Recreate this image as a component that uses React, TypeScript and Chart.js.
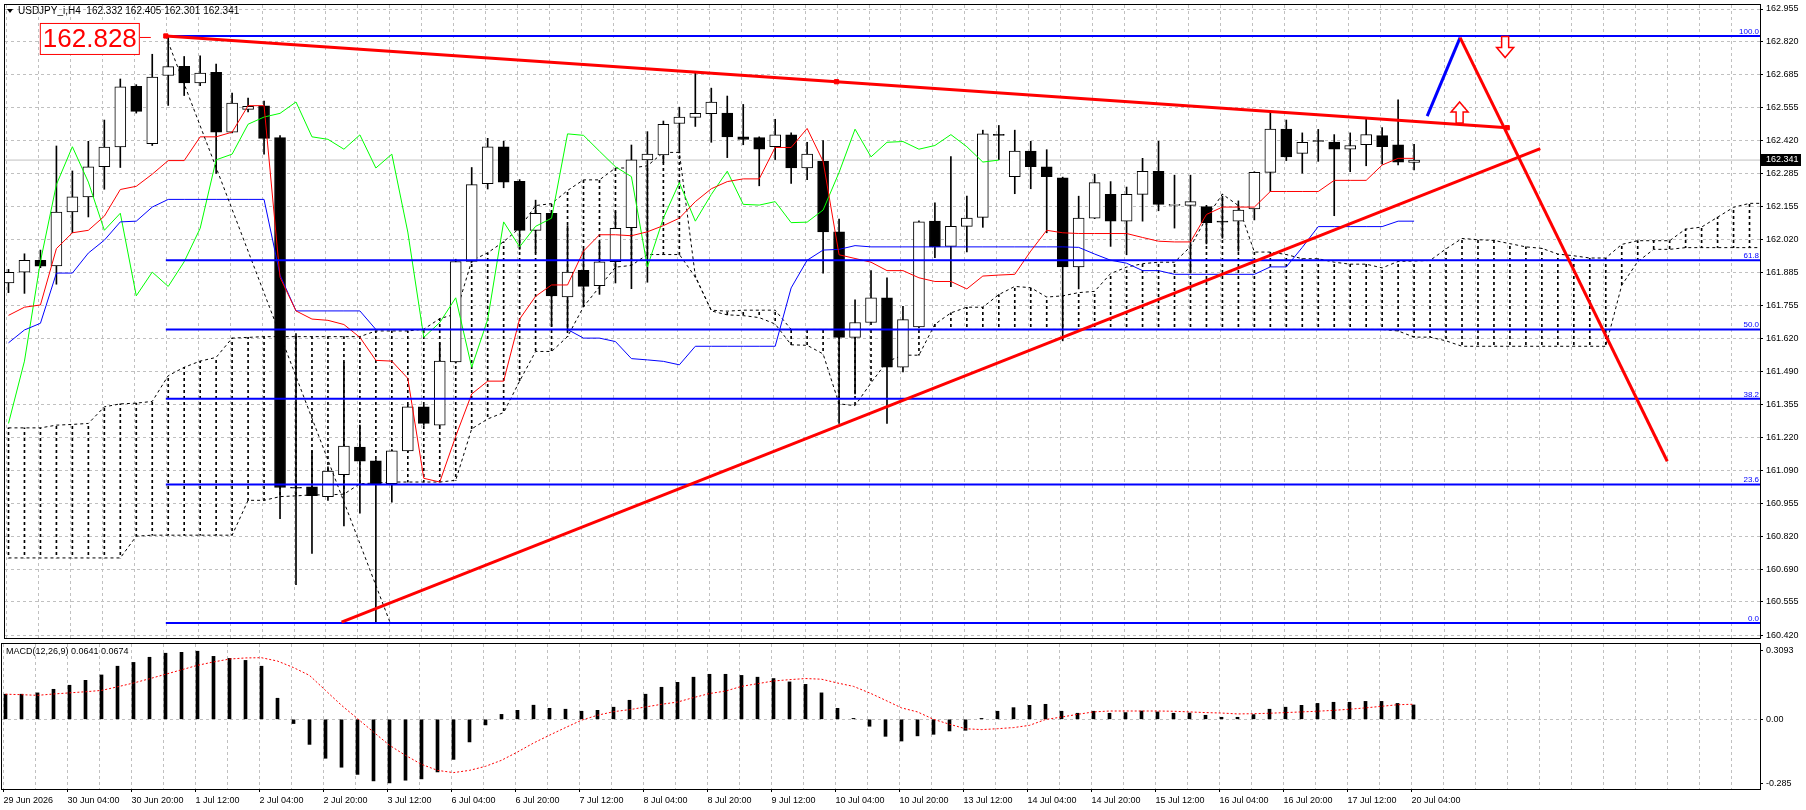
import React, { useEffect, useRef } from 'react';
import { Chart, registerables } from 'chart.js';

Chart.register(...registerables);

// ---------- text ----------
const symbolTitle = 'USDJPY_i,H4';
const lastQuote = ['162.332', '162.405', '162.301', '162.341'];
const macdTitle = 'MACD(12,26,9) 0.0641 0.0674';
const priceLabel = '162.828';

// ---------- candles (H4 bars, 29 Jun 12:00 .. 20 Jul 04:00) ----------
const opens = [161.844, 161.888, 161.936, 161.913, 162.131, 162.192, 162.314, 162.394, 162.639, 162.407,
  162.683, 162.720, 162.653, 162.696, 162.454, 162.546, 162.560, 162.432, 161.017, 161.020,
  160.980, 161.069, 161.180, 161.125, 161.032, 161.165, 161.343, 161.269, 161.525, 161.931,
  162.246, 162.395, 162.255, 162.057, 162.126, 161.788, 161.895, 161.833, 161.930, 162.068,
  162.342, 162.362, 162.489, 162.514, 162.529, 162.531, 162.435, 162.432, 162.395, 162.443,
  162.309, 162.336, 162.051, 161.624, 161.684, 161.784, 161.503, 161.666, 162.094, 161.992,
  162.073, 162.109, 162.444, 162.274, 162.377, 162.314, 162.269, 161.909, 162.106, 162.202,
  162.094, 162.202, 162.296, 162.158, 162.158, 162.153, 162.091, 162.094, 162.143, 162.291,
  162.466, 162.368, 162.417, 162.414, 162.385, 162.403, 162.440, 162.403, 162.332];
const highs = [161.899, 161.962, 161.977, 162.398, 162.297, 162.417, 162.503, 162.669, 162.646, 162.769,
  162.843, 162.760, 162.763, 162.729, 162.612, 162.592, 162.580, 162.440, 161.639, 161.165,
  161.100, 161.524, 161.269, 161.130, 161.170, 161.350, 161.350, 161.602, 161.940, 162.311,
  162.429, 162.417, 162.262, 162.179, 162.136, 162.076, 161.980, 162.010, 162.132, 162.402,
  162.456, 162.499, 162.555, 162.694, 162.632, 162.600, 162.566, 162.435, 162.506, 162.451,
  162.413, 162.420, 162.102, 161.776, 161.894, 161.865, 161.750, 162.095, 162.168, 162.355,
  162.195, 162.462, 162.481, 162.462, 162.417, 162.383, 162.272, 162.195, 162.284, 162.254,
  162.232, 162.348, 162.417, 162.280, 162.280, 162.158, 162.195, 162.176, 162.294, 162.531,
  162.503, 162.451, 162.465, 162.444, 162.451, 162.511, 162.472, 162.585, 162.405];
const lows = [161.805, 161.802, 161.906, 161.839, 162.047, 162.111, 162.223, 162.311, 162.531, 162.400,
  162.562, 162.602, 162.642, 162.287, 162.451, 162.536, 162.365, 160.891, 160.624, 160.750,
  160.965, 160.861, 160.913, 160.469, 160.958, 161.160, 161.268, 161.265, 161.520, 161.928,
  162.224, 162.229, 161.980, 161.965, 161.669, 161.654, 161.748, 161.798, 161.844, 161.821,
  161.847, 162.330, 162.370, 162.477, 162.413, 162.351, 162.403, 162.237, 162.343, 162.247,
  162.262, 161.884, 161.276, 161.395, 161.675, 161.276, 161.484, 161.662, 161.946, 161.829,
  161.970, 162.069, 162.343, 162.205, 162.225, 162.047, 161.610, 161.820, 162.104, 161.992,
  161.958, 162.094, 162.136, 162.066, 161.884, 162.002, 162.025, 161.973, 162.099, 162.214,
  162.339, 162.288, 162.336, 162.116, 162.294, 162.318, 162.324, 162.321, 162.301];
const closes = [161.887, 161.936, 161.912, 162.131, 162.192, 162.314, 162.394, 162.637, 162.538, 162.677,
  162.719, 162.653, 162.693, 162.454, 162.572, 162.558, 162.429, 161.017, 161.014, 160.984,
  161.083, 161.184, 161.123, 161.032, 161.165, 161.343, 161.276, 161.528, 161.931, 162.242,
  162.395, 162.252, 162.057, 162.126, 161.792, 161.888, 161.830, 161.930, 162.065, 162.342,
  162.365, 162.486, 162.515, 162.530, 162.576, 162.435, 162.425, 162.385, 162.443, 162.309,
  162.365, 162.050, 161.624, 161.684, 161.784, 161.503, 161.696, 162.091, 161.990, 162.073,
  162.106, 162.447, 162.441, 162.377, 162.314, 162.274, 161.909, 162.106, 162.250, 162.094,
  162.202, 162.296, 162.162, 162.159, 162.173, 162.088, 162.090, 162.139, 162.291, 162.466,
  162.354, 162.413, 162.416, 162.385, 162.400, 162.444, 162.395, 162.333, 162.341];

// ---------- Ichimoku ----------
const tenkan = [161.713, 161.746, 161.755, 161.983, 162.047, 162.057, 162.114, 162.222, 162.235, 162.284,
  162.339, 162.339, 162.435, 162.435, 162.454, 162.561, 162.561, 161.867, 161.731, 161.698,
  161.693, 161.676, 161.624, 161.531, 161.528, 161.458, 161.054, 161.039, 161.224, 161.395,
  161.447, 161.447, 161.698, 161.790, 161.836, 161.836, 161.973, 162.039, 162.039, 162.035,
  162.051, 162.076, 162.106, 162.173, 162.225, 162.254, 162.265, 162.265, 162.392, 162.392,
  162.469, 162.336, 161.958, 161.943, 161.928, 161.894, 161.894, 161.865, 161.850, 161.850,
  161.820, 161.872, 161.876, 161.879, 161.973, 162.057, 162.047, 162.044, 162.044, 162.044,
  162.044, 162.028, 162.013, 162.010, 162.010, 162.121, 162.151, 162.151, 162.151, 162.214,
  162.214, 162.214, 162.214, 162.259, 162.259, 162.259, 162.321, 162.348, 162.348];
const kijun = [161.602, 161.654, 161.681, 161.884, 161.884, 161.965, 162.017, 162.091, 162.094, 162.151,
  162.182, 162.182, 162.182, 162.182, 162.182, 162.182, 162.182, 161.876, 161.731, 161.731,
  161.731, 161.731, 161.731, 161.656, 161.656, 161.656, 161.656, 161.656, 161.656, 161.656,
  161.656, 161.656, 161.656, 161.656, 161.656, 161.656, 161.621, 161.621, 161.607, 161.538,
  161.533, 161.527, 161.513, 161.588, 161.588, 161.588, 161.588, 161.588, 161.588, 161.824,
  161.936, 161.977, 161.980, 161.995, 161.990, 161.990, 161.990, 161.990, 161.990, 161.990,
  161.990, 161.990, 161.990, 161.990, 161.990, 161.990, 161.990, 161.988, 161.961, 161.936,
  161.924, 161.894, 161.894, 161.879, 161.879, 161.879, 161.879, 161.879, 161.879, 161.909,
  161.909, 161.988, 162.072, 162.072, 162.072, 162.072, 162.072, 162.094, 162.094];
const chikou = [161.276, 161.528, 161.931, 162.242, 162.395, 162.252, 162.057, 162.126, 161.792, 161.888,
  161.830, 161.930, 162.065, 162.342, 162.365, 162.486, 162.515, 162.530, 162.576, 162.435,
  162.425, 162.385, 162.443, 162.309, 162.365, 162.050, 161.624, 161.684, 161.784, 161.503,
  161.696, 162.091, 161.990, 162.073, 162.106, 162.447, 162.441, 162.377, 162.314, 162.274,
  161.909, 162.106, 162.250, 162.094, 162.202, 162.296, 162.162, 162.159, 162.173, 162.088,
  162.090, 162.139, 162.291, 162.466, 162.354, 162.413, 162.416, 162.385, 162.400, 162.444,
  162.395, 162.333, 162.341];
const spanA = [161.258, 161.258, 161.258, 161.269, 161.272, 161.276, 161.343, 161.355, 161.358, 161.365,
  161.469, 161.503, 161.528, 161.543, 161.621, 161.624, 161.627, 161.627, 161.627, 161.627,
  161.627, 161.627, 161.627, 161.650, 161.650, 161.650, 161.657, 161.700, 161.718, 161.934,
  161.966, 162.011, 162.066, 162.157, 162.165, 162.218, 162.261, 162.261, 162.309, 162.309,
  162.318, 162.372, 162.372, 161.872, 161.731, 161.715, 161.712, 161.704, 161.678, 161.594,
  161.592, 161.557, 161.355, 161.348, 161.440, 161.526, 161.552, 161.552, 161.677, 161.723,
  161.746, 161.746, 161.797, 161.830, 161.825, 161.787, 161.792, 161.805, 161.810, 161.882,
  161.908, 161.922, 161.928, 161.928, 161.991, 162.108, 162.203, 162.157, 161.969, 161.969,
  161.959, 161.942, 161.942, 161.928, 161.920, 161.920, 161.905, 161.931, 161.933, 161.935,
  161.982, 162.024, 162.019, 162.016, 162.003, 161.990, 161.984, 161.961, 161.954, 161.945,
  161.945, 162.000, 162.015, 162.015, 162.015, 162.062, 162.070, 162.110, 162.150, 162.166,
  162.166];
const spanB = [160.732, 160.732, 160.732, 160.732, 160.732, 160.732, 160.732, 160.732, 160.820, 160.824,
  160.824, 160.824, 160.824, 160.824, 160.824, 160.965, 160.965, 160.980, 160.983, 160.987,
  160.987, 160.990, 161.032, 161.035, 161.039, 161.039, 161.039, 161.039, 161.046, 161.254,
  161.294, 161.320, 161.447, 161.567, 161.567, 161.627, 161.748, 161.828, 161.908, 161.915,
  161.959, 161.959, 161.959, 161.868, 161.734, 161.730, 161.734, 161.734, 161.734, 161.656,
  161.656, 161.656, 161.656, 161.656, 161.656, 161.656, 161.656, 161.656, 161.656, 161.656,
  161.656, 161.656, 161.656, 161.656, 161.656, 161.656, 161.656, 161.656, 161.656, 161.656,
  161.656, 161.656, 161.656, 161.656, 161.656, 161.656, 161.656, 161.656, 161.656, 161.656,
  161.656, 161.656, 161.656, 161.656, 161.656, 161.656, 161.656, 161.650, 161.625, 161.625,
  161.610, 161.588, 161.588, 161.588, 161.588, 161.588, 161.588, 161.588, 161.588, 161.588,
  161.588, 161.835, 161.930, 161.980, 161.980, 161.987, 161.987, 161.987, 161.987, 161.987,
  161.987];

// ---------- MACD ----------
const macdHist = [0.112, 0.112, 0.118, 0.134, 0.152, 0.174, 0.198, 0.237, 0.254, 0.277,
  0.295, 0.299, 0.304, 0.281, 0.272, 0.263, 0.237, 0.094, -0.019, -0.112,
  -0.174, -0.214, -0.246, -0.275, -0.284, -0.272, -0.266, -0.235, -0.179, -0.101,
  -0.025, 0.022, 0.040, 0.063, 0.049, 0.045, 0.036, 0.040, 0.054, 0.085,
  0.112, 0.143, 0.165, 0.188, 0.201, 0.201, 0.196, 0.188, 0.182, 0.167,
  0.156, 0.118, 0.049, 0.004, -0.031, -0.076, -0.097, -0.074, -0.067, -0.052,
  -0.049, 0.004, 0.036, 0.052, 0.0625, 0.067, 0.036, 0.027, 0.036, 0.027,
  0.030, 0.037, 0.033, 0.027, 0.028, 0.018, 0.009, 0.009, 0.021, 0.045,
  0.054, 0.0625, 0.071, 0.076, 0.076, 0.080, 0.080, 0.071, 0.0641];
const macdSignal = [0.112, 0.110, 0.107, 0.113, 0.118, 0.123, 0.129, 0.145, 0.162, 0.181,
  0.201, 0.221, 0.241, 0.256, 0.269, 0.274, 0.275, 0.260, 0.231, 0.196,
  0.129, 0.0625, 0.003, -0.057, -0.116, -0.161, -0.201, -0.228, -0.238, -0.228,
  -0.210, -0.183, -0.146, -0.106, -0.071, -0.037, -0.004, 0.018, 0.034, 0.043,
  0.055, 0.067, 0.077, 0.097, 0.115, 0.126, 0.147, 0.159, 0.171, 0.177,
  0.182, 0.179, 0.162, 0.147, 0.118, 0.085, 0.051, 0.033, 0.000, -0.022,
  -0.042, -0.046, -0.042, -0.037, -0.027, -0.001, 0.010, 0.022, 0.033, 0.037,
  0.037, 0.037, 0.037, 0.036, 0.033, 0.030, 0.028, 0.024, 0.025, 0.027,
  0.030, 0.033, 0.036, 0.040, 0.045, 0.051, 0.058, 0.065, 0.0674];

// ---------- axes ----------
const xTickLabels = ['29 Jun 2026', '30 Jun 04:00', '30 Jun 20:00', '1 Jul 12:00', '2 Jul 04:00', '2 Jul 20:00',
  '3 Jul 12:00', '6 Jul 04:00', '6 Jul 20:00', '7 Jul 12:00', '8 Jul 04:00', '8 Jul 20:00', '9 Jul 12:00',
  '10 Jul 04:00', '10 Jul 20:00', '13 Jul 12:00', '14 Jul 04:00', '14 Jul 20:00', '15 Jul 12:00',
  '16 Jul 04:00', '16 Jul 20:00', '17 Jul 12:00', '20 Jul 04:00'];
const yTickValues = [162.952, 162.819, 162.686, 162.552, 162.419, 162.286, 162.153, 162.019, 161.886, 161.753,
  161.620, 161.486, 161.353, 161.220, 161.087, 160.953, 160.820, 160.687, 160.554, 160.420];
const yTickLabels = ['162.955', '162.820', '162.685', '162.555', '162.420', '162.285', '162.155', '162.020',
  '161.885', '161.755', '161.620', '161.490', '161.355', '161.220', '161.090', '160.955', '160.820',
  '160.690', '160.555', '160.420'];
const macdTickValues = [0.3093, 0, -0.285];
const macdTickLabels = ['0.3093', '0.00', '-0.285'];

// ---------- objects ----------
const currentPrice = 162.341;
const fibHigh = { bar: 9.85, price: 162.843 };
const fibLow = { bar: 23.9, price: 160.469 };
const fibLevels = [100, 61.8, 50, 38.2, 23.6, 0];
const fibLabels = ['100.0', '61.8', '50.0', '38.2', '23.6', '0.0'];
const resistanceLine = [{ bar: 9.85, price: 162.843 }, { bar: 51.84, price: 162.658 }, { bar: 93.83, price: 162.472 }];
const supportLine = [{ bar: 20.85, price: 160.472 }, { bar: 95.9, price: 162.387 }];
const forecastUp = [{ bar: 88.82, price: 162.519 }, { bar: 90.88, price: 162.836 }];
const forecastDown = [{ bar: 90.88, price: 162.836 }, { bar: 103.85, price: 161.123 }];
const arrowUp = { bar: 90.85, price: 162.576 };
const arrowDown = { bar: 93.7, price: 162.756 };

// ---------- layout / style constants ----------
const W = 1806;
const MAIN_H = 643;
const MACD_TOP = 641;
const MACD_H = 169;
const X_MIN = -0.21875;
const X_MAX = 109.65625;
const Y_MIN = 160.4082;
const Y_MAX = 162.9682;
const M_MIN = -0.3112;
const M_MAX = 0.3362;
const GRID_SHIFT = -0.125;
const GRID = '#c0c0c0';
const FONT = "'Liberation Sans', Arial, sans-serif";
const AX_FONT = { family: FONT, size: 9 };

const gridTicks = () => {
  const t: { value: number }[] = [];
  for (let b = 0; b <= 108; b += 2) t.push({ value: b + GRID_SHIFT });
  return t;
};

const pts = (arr: number[]) => arr.map((v, i) => ({ x: i, y: v }));
const seg = (arr: { bar: number; price: number }[]) => arr.map((p) => ({ x: p.bar, y: p.price }));

function lineDs(data: any[], color: string, width: number, order: number, extra: any = {}) {
  return {
    type: 'line', data, borderColor: color, borderWidth: width, pointRadius: 0, tension: 0,
    fill: false, order, ...extra,
  };
}

function drawArrow(ctx: CanvasRenderingContext2D, cx: number, tipY: number, pointsUp: boolean) {
  const b = pointsUp ? 1 : -1;
  const headW = 8.5, headH = 10, shaftW = 3.5, total = 21;
  ctx.beginPath();
  ctx.moveTo(cx, tipY);
  ctx.lineTo(cx + headW, tipY + b * headH);
  ctx.lineTo(cx + shaftW, tipY + b * headH);
  ctx.lineTo(cx + shaftW, tipY + b * total);
  ctx.lineTo(cx - shaftW, tipY + b * total);
  ctx.lineTo(cx - shaftW, tipY + b * headH);
  ctx.lineTo(cx - headW, tipY + b * headH);
  ctx.closePath();
  ctx.fillStyle = '#ffffff';
  ctx.fill();
  ctx.strokeStyle = '#ff0000';
  ctx.lineWidth = 1.5;
  ctx.stroke();
}

const mainOverlay = {
  id: 'mainOverlay',
  afterDraw(chart: any) {
    const { ctx, chartArea: a, scales } = chart;
    const x = scales.x, y = scales.y;
    ctx.save();
    // frame
    ctx.strokeStyle = '#000';
    ctx.lineWidth = 1;
    ctx.strokeRect(a.left - 0.5, a.top - 0.5, a.right - a.left + 1, a.bottom - a.top + 1);

    // header
    ctx.fillStyle = '#000';
    ctx.beginPath();
    ctx.moveTo(7, 9); ctx.lineTo(13, 9); ctx.lineTo(10, 13); ctx.closePath();
    ctx.fill();
    ctx.font = `10px ${FONT}`;
    ctx.textBaseline = 'middle';
    ctx.textAlign = 'left';
    ctx.fillText(`${symbolTitle}  ${lastQuote.join(' ')}`, 18, 11);

    // fib labels
    ctx.fillStyle = '#0000ff';
    ctx.font = `8px ${FONT}`;
    ctx.textAlign = 'right';
    ctx.textBaseline = 'alphabetic';
    fibLevels.forEach((pct, i) => {
      const price = fibLow.price + (pct / 100) * (fibHigh.price - fibLow.price);
      ctx.fillText(fibLabels[i], a.right - 1, y.getPixelForValue(price) - 2);
    });

    // price label box
    const ax = x.getPixelForValue(fibHigh.bar);
    const ay = y.getPixelForValue(fibHigh.price);
    ctx.strokeStyle = '#ff0000';
    ctx.lineWidth = 1;
    ctx.beginPath();
    ctx.moveTo(ax - 26, ay + 1.5);
    ctx.lineTo(ax - 15, ay + 1.5);
    ctx.stroke();
    ctx.fillStyle = '#ffffff';
    ctx.fillRect(ax - 126, ay - 13, 100, 32);
    ctx.strokeRect(ax - 125.5, ay - 12.5, 99, 31);
    ctx.fillStyle = '#ff0000';
    ctx.font = `26px ${FONT}`;
    ctx.textAlign = 'center';
    ctx.textBaseline = 'middle';
    ctx.fillText(priceLabel, ax - 76, ay + 4);

    // arrows
    drawArrow(ctx, x.getPixelForValue(arrowUp.bar), y.getPixelForValue(arrowUp.price), true);
    drawArrow(ctx, x.getPixelForValue(arrowDown.bar), y.getPixelForValue(arrowDown.price), false);

    // current price box on the axis
    const cy = y.getPixelForValue(currentPrice);
    ctx.fillStyle = '#000';
    ctx.fillRect(a.right + 1, Math.round(cy) - 6, 40, 12);
    ctx.fillStyle = '#fff';
    ctx.font = `9px ${FONT}`;
    ctx.textAlign = 'left';
    ctx.textBaseline = 'middle';
    ctx.fillText(currentPrice.toFixed(3), a.right + 6, Math.round(cy));
    ctx.restore();
  },
};

const macdOverlay = {
  id: 'macdOverlay',
  afterDraw(chart: any) {
    const { ctx, chartArea: a } = chart;
    ctx.save();
    ctx.strokeStyle = '#000';
    ctx.lineWidth = 1;
    ctx.strokeRect(a.left - 0.5, a.top - 0.5, a.right - a.left + 1, a.bottom - a.top + 1);
    ctx.fillStyle = '#000';
    ctx.font = `9px ${FONT}`;
    ctx.textBaseline = 'middle';
    ctx.textAlign = 'left';
    ctx.fillText(macdTitle, 6, a.top + 8);
    ctx.restore();
  },
};

function xScale(showLabels: boolean) {
  return {
    type: 'linear',
    position: 'bottom',
    min: X_MIN,
    max: X_MAX,
    offset: false,
    afterBuildTicks: (s: any) => { s.ticks = gridTicks(); },
    ticks: showLabels
      ? {
        display: true, autoSkip: false, maxRotation: 0, minRotation: 0, align: 'start',
        font: AX_FONT, color: '#000', padding: 3,
        callback: (_v: any, i: number) => (i % 2 === 0 && xTickLabels[i / 2] ? xTickLabels[i / 2] : ''),
      }
      : { display: false },
    grid: {
      offset: false,
      color: GRID,
      lineWidth: 1,
      drawTicks: showLabels,
      tickLength: 3,
      tickColor: (c: any) => (c.index % 2 === 0 && c.index / 2 < xTickLabels.length ? '#000' : 'rgba(0,0,0,0)'),
    },
    border: { display: false, dash: [3, 3] },
    afterFit: (s: any) => { s.height = showLabels ? 21 : 0; s.paddingLeft = 0; s.paddingRight = 0; },
  };
}

export default function App() {
  const mainRef = useRef<HTMLCanvasElement>(null);
  const macdRef = useRef<HTMLCanvasElement>(null);

  useEffect(() => {
    const mainCanvas = mainRef.current!;
    const macdCanvas = macdRef.current!;

    const pc = document.createElement('canvas');
    pc.width = 1; pc.height = 6;
    const pctx = pc.getContext('2d')!;
    pctx.fillStyle = '#000';
    pctx.fillRect(0, 0, 1, 3);
    const hatch = mainCanvas.getContext('2d')!.createPattern(pc, 'repeat');

    const fibDatasets = fibLevels.map((pct) => {
      const price = fibLow.price + (pct / 100) * (fibHigh.price - fibLow.price);
      return lineDs([{ x: fibHigh.bar, y: price }, { x: X_MAX + 2, y: price }], '#0000ff', 2, 40);
    });

    const main = new Chart(mainCanvas, {
      type: 'bar',
      data: {
        datasets: [
          lineDs([{ x: X_MIN - 1, y: currentPrice }, { x: X_MAX + 1, y: currentPrice }], GRID, 1, 100),
          {
            type: 'bar', order: 90, grouped: false, barThickness: 1, borderWidth: 0,
            backgroundColor: hatch,
            data: spanA.map((a, i) => ({ x: i, y: [a, spanB[i]] })),
          },
          lineDs(pts(spanA), '#000', 1, 85, { borderDash: [3, 3] }),
          lineDs(pts(spanB), '#000', 1, 85, { borderDash: [3, 3] }),
          {
            type: 'bar', order: 70, grouped: false, barThickness: 1, borderWidth: 0,
            backgroundColor: '#000',
            data: lows.map((l, i) => ({ x: i, y: [l, highs[i]] })),
          },
          {
            type: 'bar', order: 65, grouped: false, barThickness: 11, borderWidth: 1,
            borderSkipped: false, minBarLength: 1, borderColor: '#000',
            backgroundColor: opens.map((o, i) => (closes[i] >= o ? '#ffffff' : '#000000')),
            data: opens.map((o, i) => ({ x: i, y: [o, closes[i]] })),
          },
          lineDs(pts(chikou), '#00ff00', 1, 60),
          lineDs(pts(kijun), '#0000ff', 1, 59),
          lineDs(pts(tenkan), '#ff0000', 1, 58),
          lineDs([{ x: fibHigh.bar, y: fibHigh.price }, { x: fibLow.bar, y: fibLow.price }], '#000', 1, 50, { borderDash: [3, 3] }),
          ...fibDatasets,
          lineDs(seg(supportLine), '#ff0000', 3, 30),
          lineDs(seg(resistanceLine), '#ff0000', 3, 29, {
            pointRadius: 3, pointStyle: 'rect', pointBackgroundColor: '#ff0000', pointBorderColor: '#ff0000', pointBorderWidth: 1,
          }),
          lineDs(seg(forecastUp), '#0000ff', 3, 21),
          lineDs(seg(forecastDown), '#ff0000', 3, 20),
        ] as any,
      },
      options: {
        responsive: false,
        maintainAspectRatio: false,
        animation: false,
        devicePixelRatio: 1,
        events: [],
        layout: { padding: { left: 2, top: 2, right: 0, bottom: 2 } },
        plugins: { legend: { display: false }, tooltip: { enabled: false }, title: { display: false } },
        scales: {
          x: xScale(false) as any,
          y: {
            type: 'linear',
            position: 'right',
            min: Y_MIN,
            max: Y_MAX,
            afterBuildTicks: (s: any) => { s.ticks = yTickValues.map((v) => ({ value: v })); },
            ticks: { autoSkip: false, font: AX_FONT, color: '#000', padding: 3, callback: (_v: any, i: number) => yTickLabels[i] },
            grid: { color: GRID, tickColor: '#000', tickLength: 3, lineWidth: 1 },
            border: { display: false, dash: [3, 3] },
            afterFit: (s: any) => { s.width = 46; s.paddingTop = 0; s.paddingBottom = 0; },
          } as any,
        },
      },
      plugins: [mainOverlay],
    } as any);

    const macd = new Chart(macdCanvas, {
      type: 'bar',
      data: {
        datasets: [
          {
            type: 'bar', order: 2, grouped: false, barThickness: 3, borderWidth: 0,
            backgroundColor: '#000', data: pts(macdHist),
          },
          lineDs(pts(macdSignal), '#ff0000', 1, 1, { borderDash: [2, 2] }),
        ] as any,
      },
      options: {
        responsive: false,
        maintainAspectRatio: false,
        animation: false,
        devicePixelRatio: 1,
        events: [],
        layout: { padding: { left: 2, top: 3, right: 0, bottom: 0 } },
        plugins: { legend: { display: false }, tooltip: { enabled: false }, title: { display: false } },
        scales: {
          x: xScale(true) as any,
          y: {
            type: 'linear',
            position: 'right',
            min: M_MIN,
            max: M_MAX,
            afterBuildTicks: (s: any) => { s.ticks = macdTickValues.map((v) => ({ value: v })); },
            ticks: { autoSkip: false, font: AX_FONT, color: '#000', padding: 3, callback: (_v: any, i: number) => macdTickLabels[i] },
            grid: {
              color: (c: any) => (c.tick && c.tick.value === 0 ? GRID : 'rgba(0,0,0,0)'),
              tickColor: '#000', tickLength: 3, lineWidth: 1,
            },
            border: { display: false, dash: [3, 3] },
            afterFit: (s: any) => { s.width = 46; s.paddingTop = 0; s.paddingBottom = 0; },
          } as any,
        },
      },
      plugins: [macdOverlay],
    } as any);

    return () => {
      main.destroy();
      macd.destroy();
    };
  }, []);

  return (
    <div style={{ position: 'absolute', left: 0, top: 0, width: W, height: 810, background: '#ffffff', overflow: 'hidden' }}>
      <canvas ref={mainRef} width={W} height={MAIN_H} style={{ position: 'absolute', left: 0, top: 0, width: W, height: MAIN_H }} />
      <canvas ref={macdRef} width={W} height={MACD_H} style={{ position: 'absolute', left: 0, top: MACD_TOP, width: W, height: MACD_H }} />
    </div>
  );
}
